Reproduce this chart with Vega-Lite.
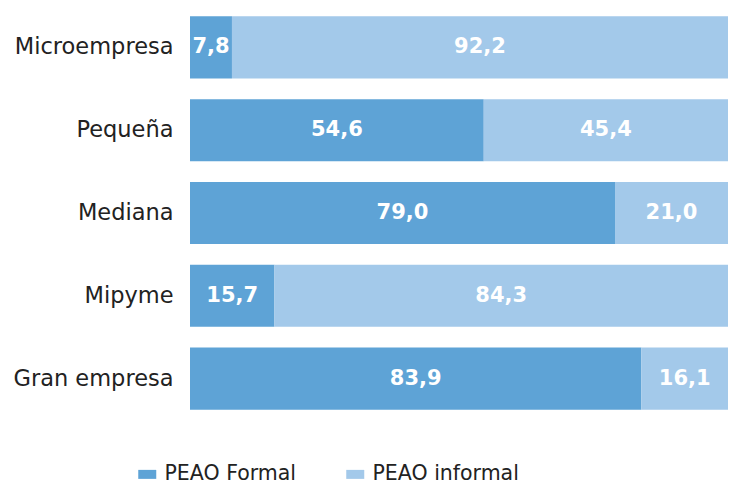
{
  "$schema": "https://vega.github.io/schema/vega-lite/v6.json",
  "autosize": "none",
  "width": 538,
  "height": 414,
  "padding": {"left": 190, "top": 6, "right": 4, "bottom": 65},
  "background": "white",
  "config": {
    "view": {"stroke": null},
    "font": "DejaVu Sans",
    "locale": {"number": {"decimal": ",", "thousands": ".", "grouping": [3], "currency": ["", " €"]}}
  },
  "data": {
    "values": [
      {"cat": "Microempresa", "serie": "PEAO Formal", "order": 1, "value": 7.8},
      {"cat": "Microempresa", "serie": "PEAO informal", "order": 2, "value": 92.2},
      {"cat": "Pequeña", "serie": "PEAO Formal", "order": 1, "value": 54.6},
      {"cat": "Pequeña", "serie": "PEAO informal", "order": 2, "value": 45.4},
      {"cat": "Mediana", "serie": "PEAO Formal", "order": 1, "value": 79.0},
      {"cat": "Mediana", "serie": "PEAO informal", "order": 2, "value": 21.0},
      {"cat": "Mipyme", "serie": "PEAO Formal", "order": 1, "value": 15.7},
      {"cat": "Mipyme", "serie": "PEAO informal", "order": 2, "value": 84.3},
      {"cat": "Gran empresa", "serie": "PEAO Formal", "order": 1, "value": 83.9},
      {"cat": "Gran empresa", "serie": "PEAO informal", "order": 2, "value": 16.1}
    ]
  },
  "transform": [
    {"stack": "value", "groupby": ["cat"], "sort": [{"field": "order"}], "as": ["v0", "v1"]},
    {"calculate": "(datum.v0 + datum.v1) / 2", "as": "mid"}
  ],
  "encoding": {
    "y": {
      "field": "cat", "type": "nominal",
      "sort": ["Microempresa", "Pequeña", "Mediana", "Mipyme", "Gran empresa"],
      "scale": {"paddingInner": 0.25, "paddingOuter": 0.125},
      "axis": {"title": null, "domain": false, "ticks": false, "labelFontSize": 22.5, "labelColor": "#222222", "labelPadding": 17, "labelFont": "DejaVu Sans"}
    }
  },
  "layer": [
    {
      "mark": {"type": "bar"},
      "encoding": {
        "x": {"field": "v0", "type": "quantitative", "scale": {"domain": [0, 100], "nice": false}, "axis": null},
        "x2": {"field": "v1"},
        "color": {
          "field": "serie", "type": "nominal",
          "scale": {"domain": ["PEAO Formal", "PEAO informal"], "range": ["#5EA3D6", "#A3C9EA"]},
          "legend": {
            "title": null, "orient": "none", "direction": "horizontal",
            "legendX": -53, "legendY": 458,
            "symbolType": "M-1,-0.5H1V0.5H-1Z", "symbolSize": 324, "symbolStrokeWidth": 0,
            "labelFontSize": 20.5, "labelColor": "#222222", "labelOffset": 7, "columnPadding": 48,
            "labelFont": "DejaVu Sans"
          }
        }
      }
    },
    {
      "mark": {"type": "text", "color": "white", "fontSize": 21, "fontWeight": "bold", "align": "center", "baseline": "middle", "font": "DejaVu Sans"},
      "encoding": {
        "x": {"field": "mid", "type": "quantitative"},
        "text": {"field": "value", "type": "quantitative", "format": ".1f"}
      }
    }
  ]
}
